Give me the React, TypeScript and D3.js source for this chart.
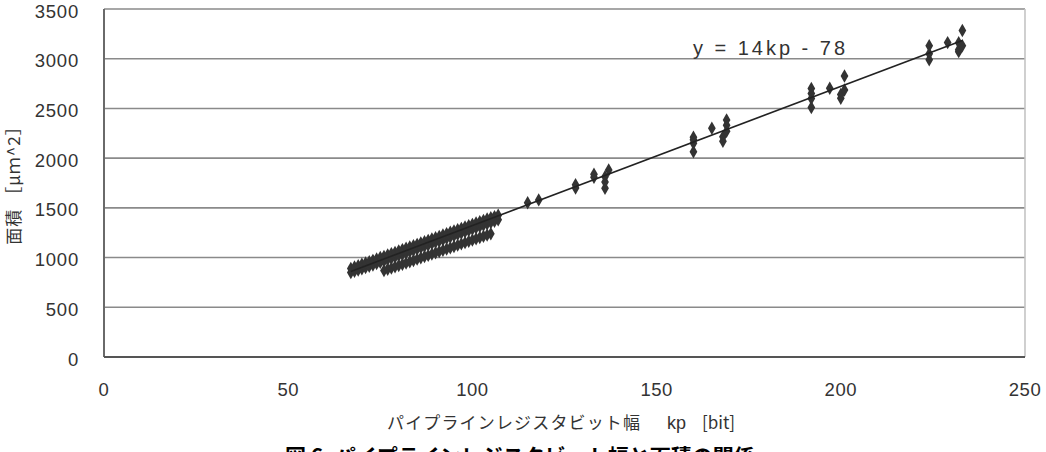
import React from "react";
import * as d3 from "d3";

// ---- data ----
const xTicks = [0, 50, 100, 150, 200, 250];
const yTicks = [0, 500, 1000, 1500, 2000, 2500, 3000, 3500];

// dense upper band (two rows)
const upperKp = [67, 68, 69, 70, 71, 72, 73, 74, 75, 76, 77, 78, 79, 80, 81, 82, 83, 84, 85, 86, 87, 88, 89, 90, 91, 92, 93, 94, 95, 96, 97, 98, 99, 100, 101, 102, 103, 104, 105, 106, 107];
const upperAreaHi = [890, 905, 918, 932, 945, 958, 972, 985, 1000, 1012, 1026, 1040, 1052, 1066, 1080, 1093, 1106, 1120, 1133, 1146, 1160, 1173, 1187, 1200, 1213, 1227, 1240, 1254, 1267, 1280, 1294, 1307, 1321, 1334, 1347, 1361, 1374, 1388, 1400, 1412, 1425];
const upperAreaLo = [850, 862, 875, 888, 900, 913, 926, 940, 953, 966, 980, 993, 1006, 1020, 1033, 1046, 1060, 1073, 1086, 1100, 1113, 1126, 1140, 1153, 1166, 1180, 1193, 1206, 1220, 1233, 1246, 1260, 1273, 1286, 1300, 1313, 1326, 1340, 1353, 1366, 1380];

// lower band
const lowerKp = [76, 77, 78, 79, 80, 81, 82, 83, 84, 85, 86, 87, 88, 89, 90, 91, 92, 93, 94, 95, 96, 97, 98, 99, 100, 101, 102, 103, 104, 105];
const lowerArea = [869, 882, 894, 907, 920, 933, 946, 958, 971, 984, 997, 1010, 1022, 1035, 1048, 1061, 1074, 1086, 1099, 1112, 1125, 1138, 1150, 1163, 1176, 1189, 1202, 1214, 1227, 1240];

// scattered larger designs
const sparseKp = [115, 118, 128, 128, 133, 133, 136, 136, 136, 137, 160, 160, 160, 160, 165, 168, 168, 169, 169, 169, 192, 192, 192, 192, 197, 200, 200, 201, 201, 224, 224, 224, 229, 232, 232, 232, 233, 233];
const sparseArea = [1552, 1580, 1700, 1732, 1808, 1838, 1697, 1760, 1814, 1881, 2065, 2150, 2185, 2210, 2300, 2170, 2215, 2270, 2330, 2384, 2510, 2600, 2650, 2700, 2703, 2603, 2640, 2686, 2827, 2990, 3050, 3130, 3162, 3071, 3090, 3160, 3130, 3284];

const slope = 14;
const intercept = -78;
const equationLabel = "y = 14kp - 78";
const xTitleMain = "パイプラインレジスタビット幅";
const xTitleVar = "kp";
const xTitleUnit = "[bit]";
const yTitle = "面積 ［μｍ^2］";
const caption = "図 6. パイプラインレジスタビット幅と面積の関係";

const W = 1046;
const H = 452;
const margin = { left: 104, right: 21, top: 9, bottom: 95 };

export default function App() {
  const x = d3.scaleLinear().domain([0, 250]).range([margin.left, W - margin.right]);
  const y = d3.scaleLinear().domain([0, 3500]).range([H - margin.bottom, margin.top]);

  const pts: [number, number][] = [];
  upperKp.forEach((k, i) => { pts.push([k, upperAreaLo[i]]); pts.push([k, upperAreaHi[i]]); });
  lowerKp.forEach((k, i) => pts.push([k, lowerArea[i]]));
  sparseKp.forEach((k, i) => pts.push([k, sparseArea[i]]));

  const allKp = pts.map((p) => p[0]);
  const kMin = d3.min(allKp)!;
  const kMax = d3.max(allKp)!;
  const line = d3.line<number>().x((k) => x(k)).y((k) => y(slope * k + intercept));

  const diamond = d3.symbol().type(d3.symbolDiamond).size(52)()!;
  const tickFont = "'Liberation Sans', Arial, sans-serif";
  const jp = "'Noto Sans CJK JP', sans-serif";

  return (
    <svg width={W} height={H} style={{ position: "absolute", left: 0, top: 0, background: "#fff" }}>
      <rect x={0} y={0} width={W} height={H} fill="#fff" />
      {/* gridlines */}
      {yTicks.slice(1).map((t) => (
        <line key={t} x1={x(0)} x2={x(250)} y1={y(t)} y2={y(t)} stroke="#8a8a8a" strokeWidth={1.6} />
      ))}
      {/* frame */}
      <line x1={x(250)} x2={x(250)} y1={y(3500)} y2={y(0)} stroke="#c4c4c4" strokeWidth={1.6} />
      <line x1={x(0)} x2={x(0)} y1={y(3500)} y2={y(0)} stroke="#6a6a6a" strokeWidth={2} />
      <line x1={x(0)} x2={x(250)} y1={y(0)} y2={y(0)} stroke="#555" strokeWidth={2} />

      {/* points */}
      {pts.map((p, i) => (
        <path key={i} d={diamond} transform={`translate(${x(p[0])},${y(p[1])})`} fill="#333" />
      ))}
      {/* regression line */}
      <path d={line([kMin, kMax])!} stroke="#222" strokeWidth={1.6} fill="none" />

      {/* equation */}
      <text x={693} y={55} fontFamily={tickFont} fontSize={20} fill="#333" textLength={152} lengthAdjust="spacing">
        {equationLabel}
      </text>

      {/* y tick labels */}
      {yTicks.map((t) => (
        <text key={t} x={79} y={y(t) + 2} textAnchor="end" dominantBaseline="central" fontFamily={tickFont} fontSize={18.5} letterSpacing={0.8} fill="#333">
          {t}
        </text>
      ))}
      {/* x tick labels */}
      {xTicks.map((t) => (
        <text key={t} x={x(t)} y={389} textAnchor="middle" dominantBaseline="central" fontFamily={tickFont} fontSize={18.5} letterSpacing={0.5} fill="#333">
          {t}
        </text>
      ))}

      {/* x title */}
      <text x={387} y={429} fontFamily={jp} fontSize={17} fill="#333">
        <tspan textLength={253} lengthAdjust="spacing">{xTitleMain}</tspan>
        <tspan x={667} fontFamily={tickFont} fontSize={18}>{xTitleVar}</tspan>
        <tspan x={702} fontFamily={jp}>{xTitleUnit}</tspan>
      </text>

      {/* y title */}
      <text transform={`translate(20,${181}) rotate(-90)`} textAnchor="middle" fontFamily={jp} fontSize={17} letterSpacing={1} fill="#333">
        {yTitle}
      </text>

      {/* caption (clipped at bottom, as in the reference) */}
      <text x={285} y={464} fontFamily={jp} fontSize={21} fontWeight="bold" fill="#000">
        {caption}
      </text>
    </svg>
  );
}
